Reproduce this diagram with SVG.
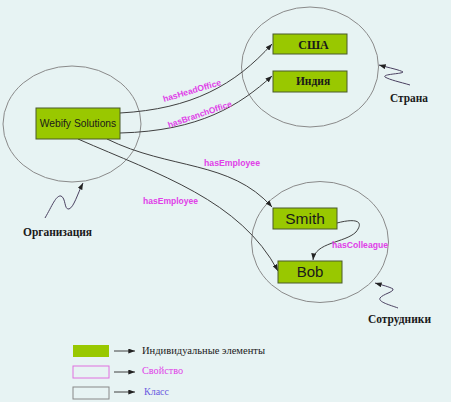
<svg xmlns="http://www.w3.org/2000/svg" width="451" height="402" viewBox="0 0 451 402">
<style>
.cls{fill:none;stroke:#8a8a8a;stroke-width:1}
.ind{fill:#99c800;stroke:#4a5a2a;stroke-width:1}
.con{fill:none;stroke:#404040;stroke-width:1}
.sq{fill:none;stroke:#4a4060;stroke-width:1}
.prop{font-family:"Liberation Sans",Arial,sans-serif;font-weight:bold;font-size:8.5px;fill:#e040e8}
.ser{font-family:"Liberation Serif","Times New Roman",serif;font-weight:bold;fill:#1a1a1a}
.sans{font-family:"Liberation Sans",Arial,sans-serif;fill:#1a1a1a}
</style>
<defs>
<marker id="ah" viewBox="0 0 8 6" refX="8" refY="3" markerWidth="7" markerHeight="5" orient="auto" markerUnits="userSpaceOnUse">
<path d="M0,0 L8,3 L0,6 z" fill="#222"/>
</marker>
</defs>
<rect width="451" height="402" fill="#e7f3f3"/>

<g id="class-organization">
<ellipse class="cls" cx="72" cy="124" rx="69" ry="58"/>
<text class="ser" x="23" y="236" font-size="11.5" textLength="69" lengthAdjust="spacingAndGlyphs">Организация</text>
</g>
<g id="class-country">
<ellipse class="cls" cx="310" cy="67" rx="68.5" ry="60"/>
<text class="ser" x="390" y="102" font-size="11.5" textLength="38" lengthAdjust="spacingAndGlyphs">Страна</text>
</g>
<g id="class-employees">
<ellipse class="cls" cx="320" cy="242" rx="68.5" ry="60.5"/>
<text class="ser" x="368" y="323" font-size="11.5" textLength="63" lengthAdjust="spacingAndGlyphs">Сотрудники</text>
</g>

<g id="connectors">
<path class="con" d="M120,113 C192,109 235,85 272,44" marker-end="url(#ah)"/>
<path class="con" d="M120,133 C200,131 240,105 272,76" marker-end="url(#ah)"/>
<path class="con" d="M107,139 C170,170 230,160 272,207" marker-end="url(#ah)"/>
<path class="con" d="M78,139 C160,175 240,200 278,271" marker-end="url(#ah)"/>
<path class="con" d="M337,223 C352,219 366,219 356,232 C345,243 315,242 313,260" marker-end="url(#ah)"/>
<path class="sq" d="M45,218 C52,206 56,195 61,196 C66,198 64,210 69,209 C74,207 77,195 83,183" marker-end="url(#ah)"/>
<path class="sq" d="M410,85 C400,82 390,80 385,77 C382,74 402,74 403,72 C400,70 390,68 379,65" marker-end="url(#ah)"/>
<path class="sq" d="M398,308 C390,305 378,302 380,298 C383,294 394,292 393,289 C390,287 382,285 375,283" marker-end="url(#ah)"/>
<text class="prop" transform="translate(164,102) rotate(-16.5)" textLength="60" lengthAdjust="spacingAndGlyphs">hasHeadOffice</text>
<text class="prop" transform="translate(169,128) rotate(-19)" textLength="67" lengthAdjust="spacingAndGlyphs">hasBranchOffice</text>
<text class="prop" x="204" y="166" textLength="56" lengthAdjust="spacingAndGlyphs">hasEmployee</text>
<text class="prop" x="143" y="204" textLength="55" lengthAdjust="spacingAndGlyphs">hasEmployee</text>
<text class="prop" x="332" y="248" textLength="56" lengthAdjust="spacingAndGlyphs">hasColleague</text>
</g>

<g id="node-webify">
<rect class="ind" x="36" y="108" width="84" height="31"/>
<text class="sans" x="78" y="127" font-size="10.3" text-anchor="middle" fill="#2a2a2a">Webify Solutions</text>
</g>
<g id="node-usa">
<rect class="ind" x="273" y="34" width="74" height="20"/>
<text class="ser" x="313.5" y="49" font-size="12" text-anchor="middle">США</text>
</g>
<g id="node-india">
<rect class="ind" x="273" y="71" width="74" height="21"/>
<text class="ser" x="313" y="85" font-size="11.5" text-anchor="middle">Индия</text>
</g>
<g id="node-smith">
<rect class="ind" x="273" y="208" width="64" height="21"/>
<text class="sans" x="305" y="224" font-size="15.5" text-anchor="middle">Smith</text>
</g>
<g id="node-bob">
<rect class="ind" x="278" y="261" width="64" height="22"/>
<text class="sans" x="310" y="277" font-size="15" text-anchor="middle">Bob</text>
</g>

<g id="legend">
<rect x="73" y="345" width="36" height="12" fill="#99c800"/>
<rect x="73" y="366" width="36" height="12" fill="none" stroke="#e070e0"/>
<rect x="73" y="387" width="36" height="12" fill="none" stroke="#888"/>
<path class="con" d="M114,351 L135,351" marker-end="url(#ah)"/>
<path class="con" d="M114,372 L135,372" marker-end="url(#ah)"/>
<path class="con" d="M114,392 L135,392" marker-end="url(#ah)"/>
<text x="142" y="354" font-family="'Liberation Serif','Times New Roman',serif" font-size="10" fill="#1a1a1a" textLength="123" lengthAdjust="spacingAndGlyphs">Индивидуальные элементы</text>
<text x="142" y="374" font-family="'Liberation Serif','Times New Roman',serif" font-size="10.5" fill="#e040e8" textLength="41" lengthAdjust="spacingAndGlyphs">Свойство</text>
<text x="144" y="395" font-family="'Liberation Serif','Times New Roman',serif" font-size="10" fill="#6a5ae0" textLength="25" lengthAdjust="spacingAndGlyphs">Класс</text>
</g>
</svg>
